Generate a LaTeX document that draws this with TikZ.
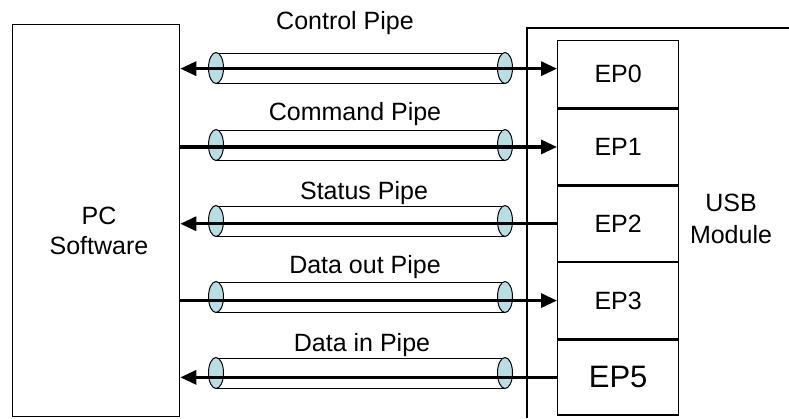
\documentclass[tikz,border=0pt]{standalone}
\usepackage{fontspec}
\setmainfont{Liberation Sans}
\usetikzlibrary{arrows.meta,positioning}
\definecolor{pipefill}{RGB}{183,222,226}
\tikzset{
  box/.style={draw, line width=1.3pt, inner sep=0pt},
  epbox/.style={box, minimum width=121pt, font=\fontsize{25}{30}\selectfont},
  flow/.style={line width=3.2pt, -{Triangle[length=16pt,width=14pt]}},
  tube/.style={line width=1pt},
  pipecap/.style={draw, line width=1pt, fill=pipefill},
  lbl/.style={font=\fontsize{25}{30}\selectfont, anchor=base}
}
\begin{document}
\begin{tikzpicture}[x=1pt,y=-1pt]
    \useasboundingbox (0,0) rectangle (789,418);
    % PC side
    \node[box, minimum width=167pt, minimum height=392pt, anchor=north west] (pc) at (12,24) {};
    \node[align=center, font=\fontsize{25}{30}\selectfont] (pctext) at (99,231) {PC\\Software};
    % USB module and its endpoints
    \draw[line width=1.3pt] (527,418) -- (527,28) -- (789,28);
    \node[align=center, font=\fontsize{25}{32}\selectfont] (usbtext) at (731,219) {USB\\Module};
    \node[epbox, minimum height=67pt, anchor=north west] (ep0) at (557,40) {EP0};
    \node[epbox, minimum height=76pt, below=0pt of ep0] (ep1) {EP1};
    \node[epbox, minimum height=75pt, below=0pt of ep1] (ep2) {EP2};
    \node[epbox, minimum height=76pt, below=0pt of ep2] (ep3) {EP3};
    \node[epbox, minimum height=75pt, below=0pt of ep3, font=\fontsize{31}{36}\selectfont] (ep5) {EP5};
    % pipes
    \foreach \y in {68,145,221,297,373} {
        \draw[tube] (216,\y-15) -- (505,\y-15) (216,\y+15) -- (505,\y+15);
        \draw[pipecap] (216,\y) ellipse (7.5pt and 15.5pt) (505,\y) ellipse (7.5pt and 15.5pt);
    }
    \coordinate (in0) at ([yshift=5.5pt]ep0.west);
    \draw[flow, {Triangle[length=16pt,width=14pt]}-{Triangle[length=16pt,width=14pt]}] (in0 -| pc.east) -- (in0);
    \draw[flow] (ep1.west -| pc.east) -- (ep1.west);
    \draw[flow] (ep2.west) -- (ep2.west -| pc.east);
    \draw[flow] (ep3.west -| pc.east) -- (ep3.west);
    \draw[flow] (ep5.west) -- (ep5.west -| pc.east);
    % pipe names
    \node[lbl] (ctrl) at (345,29.5) {Control Pipe};
    \node[lbl] (cmd) at (355,120) {Command Pipe};
    \node[lbl] (stat) at (364,199) {Status Pipe};
    \node[lbl] (dout) at (365,273) {Data out Pipe};
    \node[lbl] (din) at (362,351) {Data in Pipe};
\end{tikzpicture}
\end{document}
